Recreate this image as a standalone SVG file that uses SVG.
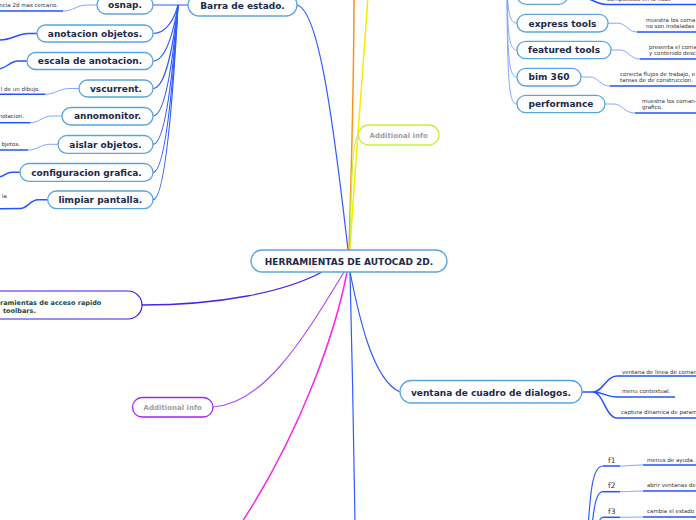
<svg xmlns="http://www.w3.org/2000/svg" width="696" height="520" viewBox="0 0 696 520">
<style>
.n{fill:#fff;stroke:#5aa6dc;stroke-width:1.3}
.t{font-family:"DejaVu Sans",Verdana,sans-serif;font-weight:bold;font-size:9px;fill:#1b2a4c;text-anchor:middle}
.l{font-family:"DejaVu Sans",Verdana,sans-serif;font-size:5.5px;fill:#333}
.f{font-family:"DejaVu Sans",Verdana,sans-serif;font-size:7.5px;fill:#333}
.ai{font-family:"DejaVu Sans",Verdana,sans-serif;font-weight:bold;font-size:7px;fill:#9e9e9e;text-anchor:middle}
.c{fill:none;stroke:#2e5cff;stroke-width:1.2}
.u{fill:none;stroke:#2255ff;stroke-width:1.5}
.lc{fill:none;stroke:#86a6ff;stroke-width:1}
</style>
<rect width="696" height="520" fill="#fff"/>
<g id="connectors">
<path d="M297,5 C318,10 332,110 348,250" class="c"/>
<path d="M354,-5 C354,60 352,150 349,250" fill="none" stroke="#f7961e" stroke-width="1.5"/>
<path d="M368,-5 C364,60 356,150 350,250" fill="none" stroke="#f3f000" stroke-width="1.5"/>
<path d="M350,250 C351,190 352,135 359,135" fill="none" stroke="#c6f040" stroke-width="1.2"/>
<path d="M142,305 C220,305 285,292 322,272" fill="none" stroke="#4a24ee" stroke-width="1.3"/>
<path d="M213,407 C262,404 300,345 344,272" fill="none" stroke="#b050f5" stroke-width="1.2"/>
<path d="M347,272 C336,330 302,430 242,522" fill="none" stroke="#ff22e8" stroke-width="1.5"/>
<path d="M350,272 C352,350 354,450 355,522" class="c" stroke-width="1.5"/>
<path d="M350,272 C358,312 372,380 400,392" class="c"/>
<path d="M153,5 L188,5" class="c" stroke-width="2"/>
<path d="M153,33.5 C166,33.5 174,20 178,5" class="c"/>
<path d="M153,61 C166,61 174,30 178,5" class="c"/>
<path d="M153,88.5 C166,88.5 174,40 178,5" class="c"/>
<path d="M153,116 C166,116 174,50 178,5" class="c"/>
<path d="M153,144.3 C166,144.3 174,60 178,5" class="c"/>
<path d="M153,172.3 C166,172.3 174,70 178,5" class="c"/>
<path d="M153,199.7 C166,199.7 174,80 178,5" class="c"/>
<path d="M97,5 L88,5 C76,5 74,11 63,11" class="lc"/><path d="M63,11 L-2,11" class="u"/>
<path d="M37,33.5 L28,33.5 C18,33.5 12,40 0,40 L-5,40" class="u"/>
<path d="M27,61 L18,61 C10,61 6,69 -2,69" class="u"/>
<path d="M79,88.5 L70,88.5 C58,88.5 56,94.3 45,94.3" class="lc"/><path d="M45,94.3 L-2,94.3" class="u"/>
<path d="M62,116 L52,116 C42,116 40,122.7 30,122.7" class="lc"/><path d="M30,122.7 L-2,122.7" class="u"/>
<path d="M58,144.3 L50,144.3 C40,144.3 38,150 28,150" class="lc"/><path d="M28,150 L-2,150" class="u"/>
<path d="M20,172.3 L12,172.3 C6,172.3 4,177 -2,177" class="u"/>
<path d="M47.7,199.7 L38,199.7 C30,199.7 28,208.5 20,208.5 L-2,208.7" class="u"/>
<path d="M507,-30 C507,-10 509,-2 517,-2" class="lc"/>
<path d="M507,-30 C507,10 509,23.2 517,23.2" class="lc"/>
<path d="M507,-30 C507,35 509,50 517,50" class="lc"/>
<path d="M507,-30 C507,60 509,77 517,77" class="lc"/>
<path d="M507,-30 C507,85 509,104 517,104" class="lc"/>
<path d="M568,-2 L583,-2 C592,-2 596,4.5 607,4.5 L700,4.5" class="u"/>
<path d="M608,23.2 L618,23.2 C626,23.2 628,32 637,32" class="lc"/><path d="M637,32 L700,32" class="u"/>
<path d="M611,50 L620,50 C628,50 630,59 640,59" class="lc"/><path d="M640,59 L700,59" class="u"/>
<path d="M581,77 L590,77 C598,77 600,86 610,86" class="lc"/><path d="M610,86 L700,86" class="u"/>
<path d="M605,104 L614,104 C622,104 624,113 635,113" class="lc"/><path d="M635,113 L700,113" class="u"/>
<path d="M582,392 L593,392 C603,392 606,376 617,376 L700,376" class="u" stroke-width="1.3"/>
<path d="M593,392 C603,392 606,397 617,397 L675,397" class="u" stroke-width="1.3"/>
<path d="M593,392 C603,392 606,418 617,418 L700,418" class="u" stroke-width="1.3"/>
<path d="M586,560 C590,490 592,466 603,466" class="c"/>
<path d="M589,560 C593,510 595,491.7 603,491.7" class="c"/>
<path d="M592,560 C596,530 598,517.3 603,517.3" class="c"/>
<path d="M603,466 L620,466" class="u" stroke-width="2"/>
<path d="M603,491.7 L620,491.7" class="u" stroke-width="2"/>
<path d="M603,517.3 L620,517.3" class="u" stroke-width="2"/>
<path d="M620,466 C630,466 633,465 643,465" class="lc"/><path d="M643,465 L700,465" class="u"/>
<path d="M620,491.7 C630,491.7 633,491 643,491" class="lc"/><path d="M643,491 L700,491" class="u"/>
<path d="M620,517.3 C630,517.3 633,517 643,517" class="lc"/><path d="M643,517 L700,517" class="u"/>
</g>
<g id="central"><rect class="n" x="251" y="250" width="196" height="22" rx="11"/><text class="t" x="349" y="265">HERRAMIENTAS DE AUTOCAD 2D.</text></g>
<g id="barra"><rect class="n" x="188" y="-6" width="109" height="22" rx="11"/><text class="t" x="242.5" y="8.5">Barra de estado.</text></g>
<g id="osnap"><rect class="n" x="97" y="-4" width="56" height="18" rx="9"/><text class="t" x="125" y="8.3">osnap.</text><text class="l" x="58" y="7" text-anchor="end">ncia 2d mas cercano.</text></g>
<g id="anotacion"><rect class="n" x="37" y="25" width="116" height="17" rx="8.5"/><text class="t" x="95" y="36.8">anotacion objetos.</text></g>
<g id="escala"><rect class="n" x="27" y="52.5" width="126" height="17" rx="8.5"/><text class="t" x="90" y="64.3">escala de anotacion.</text></g>
<g id="vscurrent"><rect class="n" x="79" y="80" width="74" height="17" rx="8.5"/><text class="t" x="116" y="91.8">vscurrent.</text><text class="l" x="40" y="90.5" text-anchor="end">l de un dibujo.</text></g>
<g id="annomonitor"><rect class="n" x="62" y="107.5" width="91" height="17.5" rx="8.7"/><text class="t" x="107.5" y="119.3">annomonitor.</text><text class="l" x="24" y="118" text-anchor="end">notacion.</text></g>
<g id="aislar"><rect class="n" x="58" y="135.5" width="95" height="17.8" rx="8.9"/><text class="t" x="105.5" y="147.6">aislar objetos.</text><text class="l" x="20" y="145.7" text-anchor="end">bjetos.</text></g>
<g id="configuracion"><rect class="n" x="20" y="163.5" width="133" height="17.8" rx="8.9"/><text class="t" x="86.5" y="175.6">configuracion grafica.</text></g>
<g id="limpiar"><rect class="n" x="47.7" y="191" width="105.3" height="17.6" rx="8.8"/><text class="t" x="100.3" y="203">limpiar pantalla.</text><text class="l" x="2" y="197.5">la</text></g>
<g id="top-right"><rect class="n" x="517" y="-14" width="51" height="18.3" rx="9"/><text class="l" x="607" y="1.2">compuestas en la nube</text></g>
<g id="express"><rect class="n" x="517" y="14.3" width="91" height="17.7" rx="8.8"/><text class="t" x="562.5" y="26.5">express tools</text><text class="l" x="646" y="22">muestra los coma</text><text class="l" x="646" y="28">no son instaladas</text></g>
<g id="featured"><rect class="n" x="517" y="41.3" width="94" height="17.4" rx="8.7"/><text class="t" x="564" y="53.3">featured tools</text><text class="l" x="649" y="49" font-size="5.2">presenta el coma</text><text class="l" x="649" y="55" font-size="5.2">y contenido desc</text></g>
<g id="bim"><rect class="n" x="517" y="68.3" width="64" height="17.7" rx="8.8"/><text class="t" x="549" y="80.3">bim 360</text><text class="l" x="620" y="76">conecta flujos de trabajo, e</text><text class="l" x="620" y="82">tareas de de construccion.</text></g>
<g id="performance"><rect class="n" x="517" y="95.3" width="88" height="17.4" rx="8.7"/><text class="t" x="561" y="107.3">performance</text><text class="l" x="642" y="103" font-size="5.1">muestra los coman-</text><text class="l" x="642" y="109" font-size="5.1">grafico.</text></g>
<g id="info-top"><rect x="358.5" y="125" width="80.5" height="20" rx="10" fill="#fff" stroke="#c6f040" stroke-width="1.3"/><text class="ai" x="398.7" y="137.5">Additional info</text></g>
<g id="toolbars"><rect x="-60" y="291" width="202" height="28" rx="14" fill="#fff" stroke="#3a1ee8" stroke-width="1.2"/><text x="0" y="304.5" font-family="DejaVu Sans,Verdana,sans-serif" font-weight="bold" font-size="6.5" fill="#1b4a3a">ramientas de acceso rapido</text><text x="3" y="313" font-family="DejaVu Sans,Verdana,sans-serif" font-weight="bold" font-size="6.5" fill="#1b4a3a">toolbars.</text></g>
<g id="info-bottom"><rect x="132.5" y="397.5" width="80.5" height="19.5" rx="9.7" fill="#fff" stroke="#a626f0" stroke-width="1.3"/><text class="ai" x="172.7" y="410">Additional info</text></g>
<g id="ventana"><rect class="n" x="400" y="380.5" width="182" height="22.5" rx="11.2"/><text class="t" x="491" y="395.6" font-size="9.5">ventana de cuadro de dialogos.</text><text class="l" x="622" y="373.5">ventana de linea de coman</text><text class="l" x="622" y="393">menu contextual.</text><text class="l" x="621" y="414" font-size="5.1">captura dinamica de param</text></g>
<g id="f1"><text class="f" x="608" y="462.5">f1</text><text class="l" x="647" y="461.5">menus de ayuda.</text></g>
<g id="f2"><text class="f" x="608" y="488">f2</text><text class="l" x="647" y="487">abrir ventanas de</text></g>
<g id="f3"><text class="f" x="608" y="513.5">f3</text><text class="l" x="647" y="512.5">cambia el estado</text></g>
</svg>
